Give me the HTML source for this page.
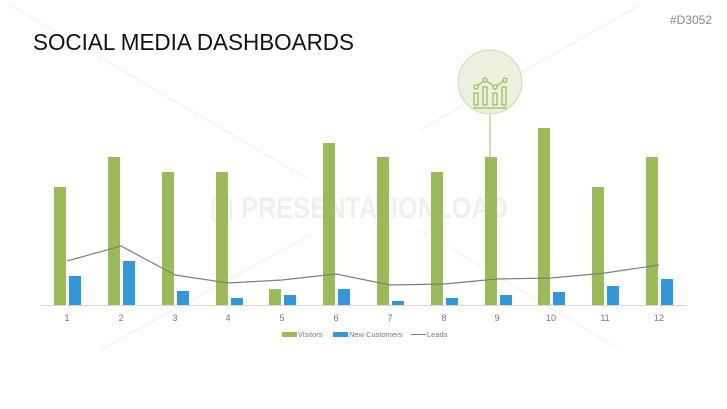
<!DOCTYPE html>
<html><head><meta charset="utf-8"><style>
html,body{margin:0;padding:0;background:#fff;}
svg{display:block;font-family:"Liberation Sans",sans-serif;}
</style></head><body>
<svg width="727" height="409" viewBox="0 0 727 409" xmlns="http://www.w3.org/2000/svg">
<rect width="727" height="409" fill="#fff"/>
<!-- faint watermark lines -->
<g stroke="#eeeeee" stroke-width="1">
<line x1="10" y1="5" x2="310" y2="180"/>
<line x1="310" y1="235" x2="100" y2="350"/>
<line x1="640" y1="5" x2="420" y2="130"/>
<line x1="420" y1="230" x2="620" y2="350"/>
</g>
<text x="210" y="218" font-size="30" font-weight="bold" fill="#efefef" textLength="298" lengthAdjust="spacingAndGlyphs">▢ PRESENTATIONLOAD</text>
<text x="33" y="50" font-size="23" fill="#111" textLength="321" lengthAdjust="spacingAndGlyphs">SOCIAL MEDIA DASHBOARDS</text>
<text x="712" y="24" font-size="12" fill="#888" text-anchor="end">#D3052</text>
<!-- circle icon -->
<line x1="490" y1="114" x2="490" y2="157" stroke="#cfdcb0" stroke-width="2"/>
<circle cx="490" cy="82" r="32" fill="#ebf0df" stroke="#cfdcb0" stroke-width="1"/>
<g stroke="#9dbb59" stroke-width="1.2" fill="none">
<rect x="474" y="93" width="4" height="12"/><rect x="483" y="87" width="4" height="18"/><rect x="493" y="93" width="4" height="12"/><rect x="502" y="87" width="4" height="18"/>
<line x1="473" y1="108" x2="507" y2="108"/>
<polyline points="476,87 485,80 495,87 505,80"/>
<circle cx="476" cy="87" r="2" fill="#ebf0df"/><circle cx="485" cy="80" r="2" fill="#ebf0df"/><circle cx="495" cy="87" r="2" fill="#ebf0df"/><circle cx="505" cy="80" r="2" fill="#ebf0df"/>
</g>
<line x1="40" y1="305.5" x2="686" y2="305.5" stroke="#d9d9d9"/>
<g fill="#9bbb59">
<rect x="54" y="187" width="12" height="118"/>
<rect x="108" y="157" width="12" height="148"/>
<rect x="162" y="172" width="12" height="133"/>
<rect x="216" y="172" width="12" height="133"/>
<rect x="269" y="289" width="12" height="16"/>
<rect x="323" y="143" width="12" height="162"/>
<rect x="377" y="157" width="12" height="148"/>
<rect x="431" y="172" width="12" height="133"/>
<rect x="485" y="157" width="12" height="148"/>
<rect x="538" y="128" width="12" height="177"/>
<rect x="592" y="187" width="12" height="118"/>
<rect x="646" y="157" width="12" height="148"/>
</g>
<g fill="#3398db">
<rect x="69" y="276" width="12" height="29"/>
<rect x="123" y="261" width="12" height="44"/>
<rect x="177" y="291" width="12" height="14"/>
<rect x="231" y="298" width="12" height="7"/>
<rect x="284" y="295" width="12" height="10"/>
<rect x="338" y="289" width="12" height="16"/>
<rect x="392" y="301" width="12" height="4"/>
<rect x="446" y="298" width="12" height="7"/>
<rect x="500" y="295" width="12" height="10"/>
<rect x="553" y="292" width="12" height="13"/>
<rect x="607" y="286" width="12" height="19"/>
<rect x="661" y="279" width="12" height="26"/>
</g>
<polyline fill="none" stroke="#7f7f7f" stroke-width="1.2" points="67,261 121,246 175,275 228,283 282,280 336,274 390,285 444,284 497,279 551,278 605,273 659,265"/>
<g font-size="9" fill="#777" text-anchor="middle">
<text x="67" y="321">1</text><text x="121" y="321">2</text><text x="175" y="321">3</text><text x="228" y="321">4</text><text x="282" y="321">5</text><text x="336" y="321">6</text><text x="390" y="321">7</text><text x="444" y="321">8</text><text x="497" y="321">9</text><text x="551" y="321">10</text><text x="605" y="321">11</text><text x="659" y="321">12</text>
</g>
<g font-size="7.5" fill="#777">
<rect x="282" y="332" width="15" height="5" fill="#9bbb59"/><text x="298" y="337">Visitors</text>
<rect x="333" y="332" width="15" height="5" fill="#3398db"/><text x="349" y="337">New Customers</text>
<line x1="411" y1="334.5" x2="426" y2="334.5" stroke="#7f7f7f"/><text x="427" y="337">Leads</text>
</g>
</svg>
</body></html>
